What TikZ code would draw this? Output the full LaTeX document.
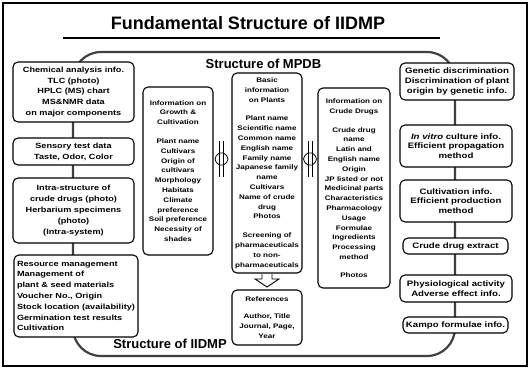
\documentclass[tikz,border=0pt]{standalone}
\usepackage{fontspec}
\setmainfont{Liberation Sans}
\newfontfamily\bxf{Liberation Sans}[FakeStretch=1.22]
\newcommand{\fontL}{\bxf\bfseries\fontsize{7.5}{10.8}\selectfont}
\newcommand{\fontM}{\bxf\bfseries\fontsize{6.6}{9.8}\selectfont}
\newcommand{\fontR}{\bxf\bfseries\fontsize{7.9}{9.6}\selectfont}
\begin{document}
\begin{tikzpicture}[x=1pt,y=-1pt,
  box/.style={draw, line width=1.1pt, rounded corners=5pt, fill=white, inner sep=1pt, align=center},
  head/.style={font=\bfseries\fontsize{13}{15}\selectfont, anchor=base},
  dblsym/.pic={
    \draw[line width=0.8pt] (-2,-18) -- (-2,18) (2,-18) -- (2,18);
    \draw[line width=0.8pt, fill=white] (-2,-6) .. controls (-8,-2) and (-8,2) .. (-2,6) -- (2,6) .. controls (8,2) and (8,-2) .. (2,-6) -- cycle;
    \draw[line width=0.8pt] (-2,-6) -- (-2,6) (2,-6) -- (2,6);
  }]
\useasboundingbox (0,0) rectangle (532,376);
% outer frame
\draw[line width=1.8pt] (3,3) rectangle (527,366);
% title
\node[font=\bfseries\fontsize{18}{20}\selectfont, anchor=base] (title) at (248,29) {Fundamental Structure of IIDMP};
\draw[line width=1.6pt] (63,38) -- (440,38);
% IIDMP frame
\draw[line width=2.2pt, black!75, rounded corners=28pt] (73,52) rectangle (455,356);
\node[head] (mpdb) at (263.5,68) {Structure of MPDB};
\node[head] (iidmp) at (170,348) {Structure of IIDMP};
% left column
\node[box, minimum width=121pt, minimum height=60pt, font=\fontL] (L1) at (73.5,92)
  {Chemical analysis info.\\TLC (photo)\\HPLC (MS) chart\\MS\&NMR data\\on major components};
\node[box, minimum width=121pt, minimum height=27pt, font=\fontL] (L2) at (73.5,151.5)
  {Sensory test data\\Taste, Odor, Color};
\node[box, minimum width=121pt, minimum height=65pt, font=\fontL] (L3) at (73.5,210.5)
  {Intra-structure of\\crude drugs (photo)\\Herbarium specimens\\(photo)\\(Intra-system)};
\node[box, minimum width=124pt, minimum height=82pt, font=\fontL, align=left] (L4) at (76,296)
  {Resource management\\Management of\\plant \& seed materials\\Voucher No., Origin\\Stock location (availability)\\Germination test results\\Cultivation};
% middle
\node[box, minimum width=70pt, minimum height=168pt, font=\fontM] (M1) at (178,171)
  {Information on\\Growth \&\\Cultivation\\[9pt]Plant name\\Cultivars\\Origin of\\cultivars\\Morphology\\Habitats\\Climate\\preference\\Soil preference\\Necessity of\\shades};
\node[box, minimum width=70pt, minimum height=200pt, font=\fontM] (C1) at (267,173)
  {Basic\\information\\on Plants\\[9pt]Plant name\\Scientific name\\Common name\\English name\\Family name\\Japanese family\\name\\Cultivars\\Name of crude\\drug\\Photos\\[9pt]Screening of\\pharmaceuticals\\to non-\\pharmaceuticals};
\node[box, minimum width=70pt, minimum height=55pt, font=\fontM] (C2) at (267,317.5)
  {References\\[8pt]Author, Title\\Journal, Page,\\Year};
\node[box, minimum width=72pt, minimum height=200pt, font=\fontM] (M3) at (354,188)
  {Information on\\Crude Drugs\\[9pt]Crude drug\\name\\Latin and\\English name\\Origin\\JP listed or not\\Medicinal parts\\Characteristics\\Pharmacology\\Usage\\Formulae\\Ingredients\\Processing\\method\\[8pt]Photos};
% double arrows
\pic at (221.5,159) {dblsym};
\pic at (310,159) {dblsym};
% down arrow
\draw[line width=0.9pt, fill=white] (262,274) -- (262,279) -- (255,279) -- (267,287) -- (279,279) -- (272,279) -- (272,274);
% right column
\node[box, minimum width=114pt, minimum height=37pt, font=\fontR] (R1) at (457,81.5)
  {Genetic discrimination\\Discrimination of plant\\origin by genetic info.};
\node[box, minimum width=112pt, minimum height=42pt, font=\fontR] (R2) at (456,146)
  {\textit{In vitro} culture info.\\Efficient propagation\\method};
\node[box, minimum width=112pt, minimum height=42pt, font=\fontR] (R3) at (456,201)
  {Cultivation info.\\Efficient production\\method};
\node[box, minimum width=105pt, minimum height=16pt, font=\fontR] (R4) at (455.5,246)
  {Crude drug extract};
\node[box, minimum width=112pt, minimum height=27pt, font=\fontR] (R5) at (456,288.5)
  {Physiological activity\\Adverse effect info.};
\node[box, minimum width=105pt, minimum height=16pt, font=\fontR] (R6) at (455.5,325)
  {Kampo formulae info.};
\end{tikzpicture}
\end{document}
